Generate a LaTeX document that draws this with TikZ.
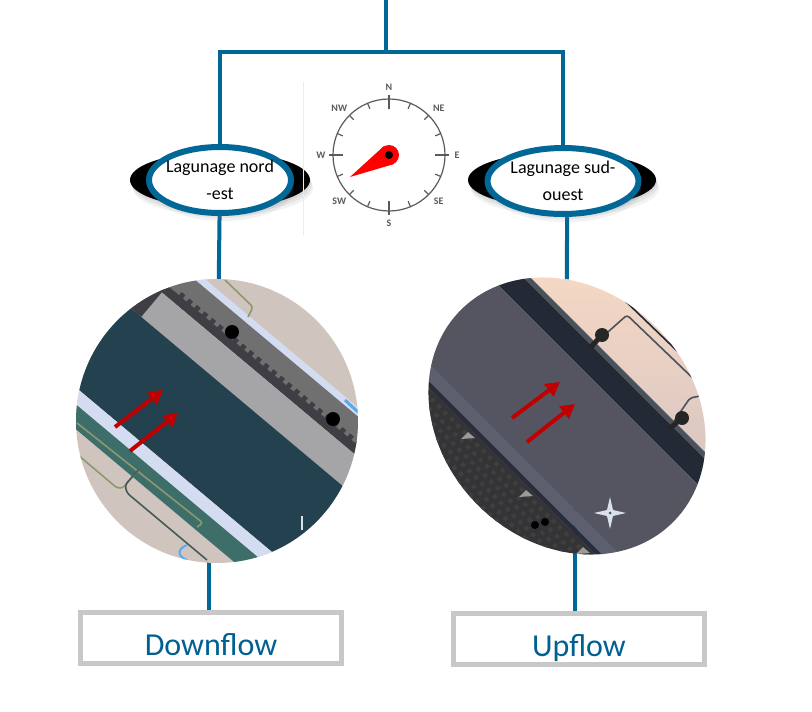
\documentclass[tikz,border=0pt]{standalone}
\usepackage{fontspec}
\setmainfont{Carlito}
\usetikzlibrary{shapes.geometric, shadows, backgrounds, arrows.meta}
\definecolor{linkblue}{RGB}{0,103,150}
\definecolor{boxgrey}{RGB}{200,200,200}
\definecolor{titleblue}{RGB}{0,96,146}
\definecolor{flowred}{RGB}{192,0,0}
\definecolor{sandbeige}{RGB}{208,197,190}
\definecolor{paleband}{RGB}{212,220,242}
\definecolor{midgrey}{RGB}{112,112,112}
\definecolor{toothgrey}{RGB}{62,62,68}
\definecolor{lightgrey}{RGB}{165,165,168}
\definecolor{deepteal}{RGB}{35,65,78}
\definecolor{seateal}{RGB}{62,110,105}
\definecolor{olivepipe}{RGB}{140,152,110}
\definecolor{slatepipe}{RGB}{70,90,90}
\definecolor{skyblue}{RGB}{90,170,235}
\definecolor{peachtop}{RGB}{246,216,196}
\definecolor{peachlow}{RGB}{216,198,194}
\definecolor{edgeslate}{RGB}{75,82,92}
\definecolor{darkslate}{RGB}{35,42,54}
\definecolor{mainslate}{RGB}{84,85,96}
\definecolor{stripslate}{RGB}{92,96,110}
\definecolor{lineslate}{RGB}{40,45,60}
\definecolor{grainlow}{RGB}{52,52,55}
\definecolor{grainhigh}{RGB}{63,63,66}
\definecolor{studgrey}{RGB}{155,155,155}
\definecolor{stargrey}{RGB}{218,224,236}
\definecolor{dialgrey}{RGB}{90,90,90}
\definecolor{faintline}{RGB}{236,236,236}
\begin{document}
\begin{tikzpicture}[
                    x=1pt, y=-1pt,
                    softshadow/.style={drop shadow={shadow xshift=1pt, shadow yshift=-2pt, opacity=0.14}, drop shadow={shadow xshift=2pt, shadow yshift=-5pt, opacity=0.12}, drop shadow={shadow xshift=3pt, shadow yshift=-8pt, opacity=0.10}},
                    link/.style={draw=linkblue, line width=4pt},
                    backoval/.style={ellipse, fill=black, minimum width=180pt, minimum height=56pt, inner sep=0pt, softshadow},
                    lagoon/.style={ellipse, draw=linkblue, line width=6pt, fill=white, minimum width=142pt, minimum height=66pt, inner sep=-12pt, align=center, font=\fontsize{18}{27}\selectfont, softshadow},
                    photospot/.style={ellipse, inner sep=0pt},
                    titlebox/.style={rectangle, draw=boxgrey, line width=5pt, fill=white, text=titleblue, inner sep=0pt, text height=42.5pt, text depth=8.5pt, font=\fontsize{32}{38}\selectfont},
                    flow/.style={-{Triangle[length=14pt, width=15pt]}, draw=flowred, line width=4pt},
                    pipe/.style={line width=1.6pt, rounded corners=3pt},
                    dial/.style={draw=dialgrey, line width=1.2pt},
                    dialtext/.style={text=dialgrey, inner sep=0pt, font=\fontsize{10}{10}\selectfont\bfseries}
                ]
                    \useasboundingbox (0,0) rectangle (812,712);

                    \node[backoval] (backnord) at (220,180) {};
                    \node[backoval, minimum width=188pt] (backsud) at (562,180) {};
                    \node[lagoon] (nordest) at (backnord) {Lagunage nord\\-est};
                    \node[lagoon, minimum width=151pt] (sudouest) at (563,181) {Lagunage sud-\\ouest};
                    \node[photospot, minimum width=282pt, minimum height=284pt] (photonord) at (217,421) {};
                    \node[photospot, rotate=-45, minimum width=300pt, minimum height=252pt] (photosud) at (567,416) {};
                    \node[titlebox, minimum width=261pt, minimum height=51pt] (downbox) at (211,638) {Downflow};
                    \node[titlebox, minimum width=251pt, minimum height=49pt] (upbox) at (579,639) {Upflow};

                    \coordinate (trunktop) at (386,0);
                    \coordinate (trunkfoot) at (386,52);
                    \coordinate (tailnorda) at (115,427);
                    \coordinate (tipnorda) at (163,390);
                    \coordinate (tailnordb) at (130,451);
                    \coordinate (tipnordb) at (178,413);
                    \coordinate (tailsuda) at (512,418);
                    \coordinate (tipsuda) at (560,382);
                    \coordinate (tailsudb) at (527,442);
                    \coordinate (tipsudb) at (575,404);

                    \begin{scope}[on background layer]
                    \draw[link] (trunktop) -- (trunkfoot);
                    \draw[link] (nordest) |- (trunkfoot);
                    \draw[link] (sudouest) |- (trunkfoot);
                    \draw[link] (nordest) -- (photonord);
                    \draw[link] (sudouest.center -| photosud) -- (photosud);
                    \draw[link] ([xshift=-2pt]downbox.north) -- ([xshift=-2pt]downbox.north |- photonord);
                    \draw[link] ([xshift=-4pt]upbox.north) -- ([xshift=-4pt]upbox.north |- photosud);
                    \end{scope}

                    \draw[faintline, line width=0.8pt] (303,82) -- (303,235);
                    \begin{scope}[shift={(389,155)}]
                    \draw[dial] (0,0) circle (56pt);
                    \foreach \ang in {22.5,45,67.5,112.5,135,157.5,202.5,225,247.5,292.5,315,337.5}
                        \draw[dial] (\ang:50pt) -- (\ang:56pt);
                    \foreach \ang in {0,90,180,270}
                        \draw[dial] (\ang:46pt) -- (\ang:60pt);
                    \foreach \lab/\ang in {N/90,NE/43,E/0,SE/317,S/270,SW/223,W/180,NW/137}
                        \node[dialtext] (dial\lab) at (\ang:68pt) {\lab};
                    \end{scope}
                    \fill[red] (350,177) -- (384,146) -- (394,164) -- cycle;
                    \fill[red] (389,155) circle (10pt);
                    \fill[black] (389,155) circle (4pt);

                    \begin{scope}
                    \clip (217,421) ellipse (141pt and 142pt);
                    \fill[sandbeige] (70,270) rectangle (365,570);
                    \begin{scope}[shift={(217,421)}, rotate=-40]
                    \foreach \vtop/\vlow/\col in {-101/-94/paleband,-94/-72/midgrey,-72/-63/toothgrey,-63/-31/lightgrey,-31/65/deepteal,65/78/paleband,78/97/seateal}
                        \fill[\col] (-220,\vtop) rectangle (220,\vlow);
                    \fill[toothgrey] (-220,-78) rectangle (-125,-31);
                    \foreach \ucol in {-11,...,15}
                        \fill[toothgrey] (\ucol*10,-76) rectangle +(5,5);
                    \end{scope}
                    \draw[skyblue, line width=3pt] (345,400) -- (358,412);
                    \draw[olivepipe, pipe] (225,280) -- (253,307) -- (248,317);
                    \draw[olivepipe, pipe] (77,423) -- (203,523) -- (197,527);
                    \draw[olivepipe, pipe] (78,455) -- (117,488) -- (123,488) -- (140,468);
                    \draw[slatepipe, pipe] (140,468) -- (125,485) -- (127,493) -- (207,560);
                    \draw[skyblue, line width=2pt] (187,545) .. controls (177,549) and (177,556) .. (187,560);
                    \draw[stargrey, line width=1.5pt] (302,516) -- (302,530);
                    \fill[black] (232,332) circle (7pt);
                    \fill[black] (333,419) circle (7pt);
                    \end{scope}
                    \draw[flow] (tailnorda) -- (tipnorda);
                    \draw[flow] (tailnordb) -- (tipnordb);

                    \begin{scope}
                    \clip[shift={(567,416)}, rotate=-45] (0,0) ellipse (150pt and 126pt);
                    \shade[top color=peachtop, bottom color=peachlow] (420,270) rectangle (720,470);
                    \begin{scope}[shift={(567,416)}, rotate=-45]
                    \foreach \vtop/\vlow/\col in {-72/-67/edgeslate,-67/-44/darkslate,-44/61/mainslate,61/73/stripslate,73/78/lineslate,78/150/grainlow}
                        \fill[\col] (-220,\vtop) rectangle (220,\vlow);
                    \foreach \ucol in {-16,...,16}
                        \foreach \vrow in {0,...,7}
                            \fill[grainhigh] ({\ucol*9+mod(\vrow,2)*4},{82+\vrow*8}) rectangle +(4,4);
                    \end{scope}
                    \draw[edgeslate, pipe] (590,348) -- (627,315) -- (700,385);
                    \draw[darkslate, pipe] (617,293) -- (700,373);
                    \draw[edgeslate, pipe] (668,430) -- (690,398) -- (705,395);
                    \draw[black!85, line width=5pt] (590,348) -- (602,335);
                    \fill[black!85] (602,335) circle (7pt);
                    \draw[black!85, line width=5pt] (668,430) -- (682,418);
                    \fill[black!85] (682,418) circle (7pt);
                    \fill[black] (535,525) circle (4pt);
                    \fill[black] (545,522) circle (4pt);
                    \fill[studgrey] (461,439) -- (468,432) -- (475,438) -- cycle;
                    \fill[studgrey] (519,497) -- (526,490) -- (533,496) -- cycle;
                    \fill[studgrey] (576,554) -- (583,547) -- (590,553) -- cycle;
                    \fill[stargrey] (610,497) -- (613,510) -- (626,513) -- (613,516) -- (610,529) -- (607,516) -- (594,513) -- (607,510) -- cycle;
                    \fill[mainslate] (610,513) circle (1.5pt);
                    \end{scope}
                    \draw[flow] (tailsuda) -- (tipsuda);
                    \draw[flow] (tailsudb) -- (tipsudb);
                \end{tikzpicture}
\end{document}
